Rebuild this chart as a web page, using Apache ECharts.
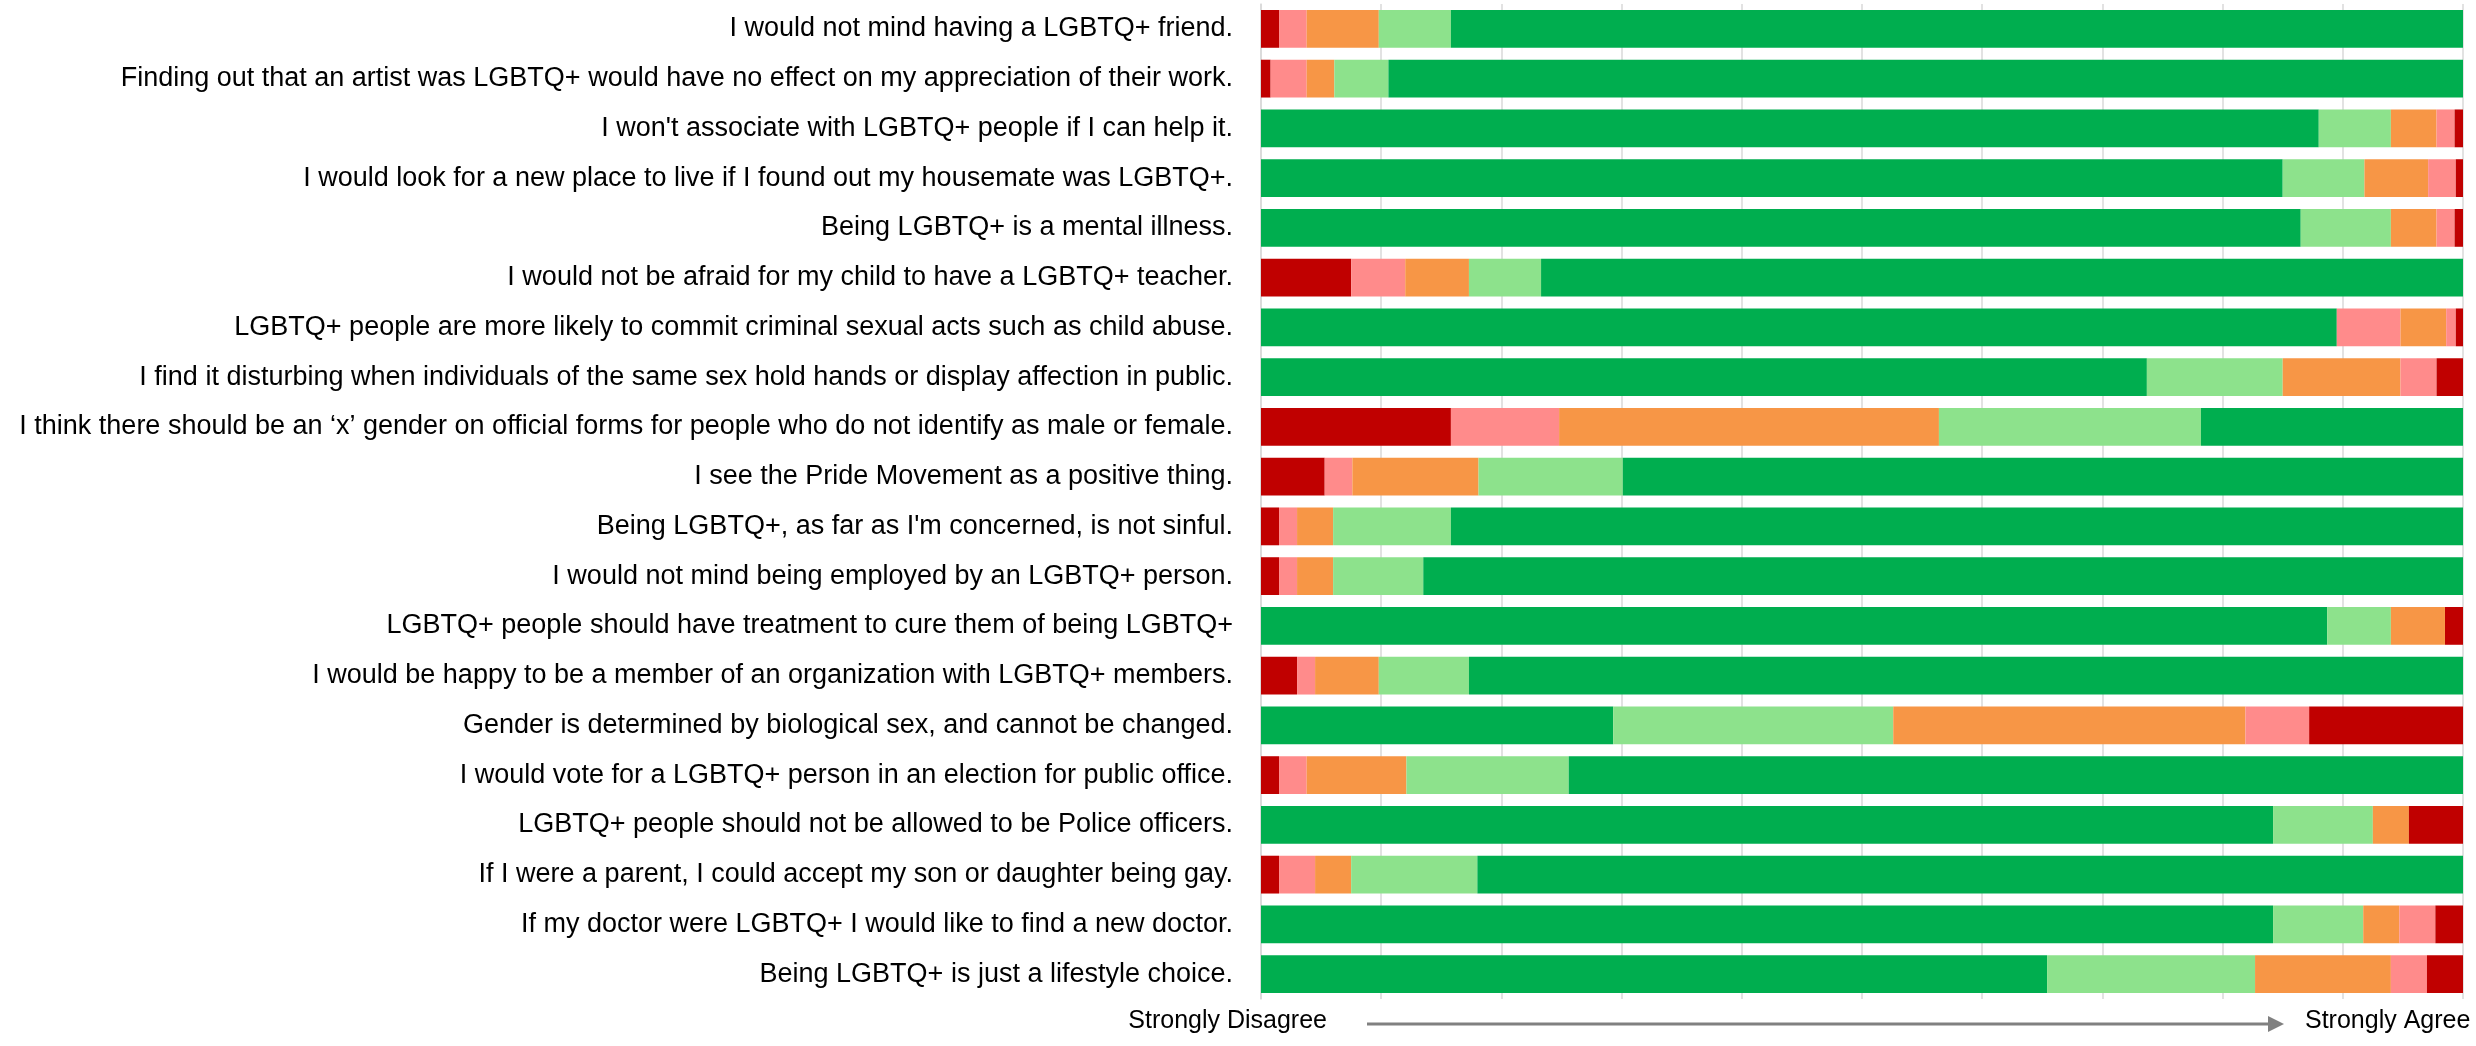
<!DOCTYPE html>
<html>
<head>
<meta charset="utf-8">
<script src="https://cdn.jsdelivr.net/npm/echarts@6/dist/echarts.min.js"></script>
<style>
  html, body { margin: 0; padding: 0; background: #ffffff; }
  #chart { width: 2476px; height: 1046px; }
</style>
</head>
<body>
<div id="chart"></div>
<script>
// Statements (top to bottom)
const categories = [
  "I would not mind having a LGBTQ+ friend.",
  "Finding out that an artist was LGBTQ+ would have no effect on my appreciation of their work.",
  "I won't associate with LGBTQ+ people if I can help it.",
  "I would look for a new place to live if I found out my housemate was LGBTQ+.",
  "Being LGBTQ+ is a mental illness.",
  "I would not be afraid for my child to have a LGBTQ+ teacher.",
  "LGBTQ+ people are more likely to commit criminal sexual acts such as child abuse.",
  "I find it disturbing when individuals of the same sex hold hands or display affection in public.",
  "I think there should be an \u2018x\u2019 gender on official forms for people who do not identify as male or female.",
  "I see the Pride Movement as a positive thing.",
  "Being LGBTQ+, as far as I'm concerned, is not sinful.",
  "I would not mind being employed by an LGBTQ+ person.",
  "LGBTQ+ people should have treatment to cure them of being LGBTQ+",
  "I would be happy to be a member of an organization with LGBTQ+ members.",
  "Gender is determined by biological sex, and cannot be changed.",
  "I would vote for a LGBTQ+ person in an election for public office.",
  "LGBTQ+ people should not be allowed to be Police officers.",
  "If I were a parent, I could accept my son or daughter being gay.",
  "If my doctor were LGBTQ+ I would like to find a new doctor.",
  "Being LGBTQ+ is just a lifestyle choice."
];

// true = statement is LGBTQ+-positive (agreeing is supportive)
const positiveStatement = [
  true, true, false, false, false, true, false, false, true, true,
  true, true, false, true, false, true, false, true, false, false
];

// Percent of responses, left (Strongly Disagree) to right (Strongly Agree)
const stronglyDisagree = [1.5, 0.8, 88.0, 85.0, 86.5, 7.5, 89.5, 73.7, 15.8, 5.3, 1.5, 1.5, 88.7, 3.0, 29.3, 1.5, 84.2, 1.5, 84.2, 65.4];
const disagree         = [2.3, 3.0, 6.0, 6.8, 7.5, 4.5, 5.3, 11.3, 9.0, 2.3, 1.5, 1.5, 5.3, 1.5, 23.3, 2.3, 8.3, 3.0, 7.5, 17.3];
const neutral          = [6.0, 2.3, 3.8, 5.3, 3.8, 5.3, 3.8, 9.8, 31.6, 10.5, 3.0, 3.0, 4.5, 5.3, 29.3, 8.3, 3.0, 3.0, 3.0, 11.3];
const agree            = [6.0, 4.5, 1.5, 2.3, 1.5, 6.0, 0.8, 3.0, 21.8, 12.0, 9.8, 7.5, 0.0, 7.5, 5.3, 13.5, 0.0, 10.5, 3.0, 3.0];
const stronglyAgree    = [84.2, 89.4, 0.7, 0.6, 0.7, 76.7, 0.6, 2.2, 21.8, 69.9, 84.2, 86.5, 1.5, 82.7, 12.8, 74.4, 4.5, 82.0, 2.3, 3.0];

const levelNames = ["Strongly Disagree", "Disagree", "Neutral", "Agree", "Strongly Agree"];
const levelData = [stronglyDisagree, disagree, neutral, agree, stronglyAgree];

// styling
const C = { red: "#C00000", pink: "#FF8B8B", orange: "#F79646", lgreen: "#8DE28C", green: "#00AE4F" };
const posColors = [C.red, C.pink, C.orange, C.lgreen, C.green];
const negColors = [C.green, C.lgreen, C.orange, C.pink, C.red];
// the source chart colours the "Disagree" segment of one row pink
const colorOverride = { "6-1": C.pink };

function segColor(row, level) {
  const key = row + "-" + level;
  if (colorOverride[key]) return colorOverride[key];
  return positiveStatement[row] ? posColors[level] : negColors[level];
}

const series = levelNames.map((name, li) => ({
  name: name,
  type: "bar",
  stack: "total",
  barCategoryGap: "24%",
  data: levelData[li].map((v, ri) => ({
    value: v,
    itemStyle: { color: segColor(ri, li) }
  })),
  emphasis: { disabled: true }
}));

const chart = echarts.init(document.getElementById("chart"), null, { renderer: "canvas" });
const FONT = "Liberation Sans";
chart.setOption({
  animation: false,
  backgroundColor: "#ffffff",
  grid: { left: 1261, right: 13, top: 4, bottom: 47, containLabel: false },
  xAxis: {
    type: "value",
    min: 0, max: 100, interval: 10,
    axisLabel: { show: false },
    axisTick: { show: false },
    axisLine: { show: false },
    splitLine: { show: true, lineStyle: { color: "#D9D9D9", width: 1.5 } }
  },
  yAxis: {
    type: "category",
    inverse: true,
    data: categories,
    axisTick: { show: false },
    axisLine: { show: true, lineStyle: { color: "#D9D9D9", width: 1.5 } },
    axisLabel: { color: "#000000", fontSize: 27, fontFamily: FONT, margin: 28 }
  },
  series: series,
  graphic: [
    { type: "text", right: 2476 - 1327, top: 1009,
      style: { text: "Strongly Disagree", font: "25px " + FONT, fill: "#000000" } },
    { type: "line", shape: { x1: 1367, y1: 1024, x2: 2270, y2: 1024 },
      style: { stroke: "#808080", lineWidth: 3 } },
    { type: "polygon", shape: { points: [[2268, 1016], [2284, 1024], [2268, 1032]] },
      style: { fill: "#808080" } },
    { type: "text", left: 2305, top: 1009,
      style: { text: "Strongly Agree", font: "25px " + FONT, fill: "#000000" } }
  ]
});
</script>
</body>
</html>
